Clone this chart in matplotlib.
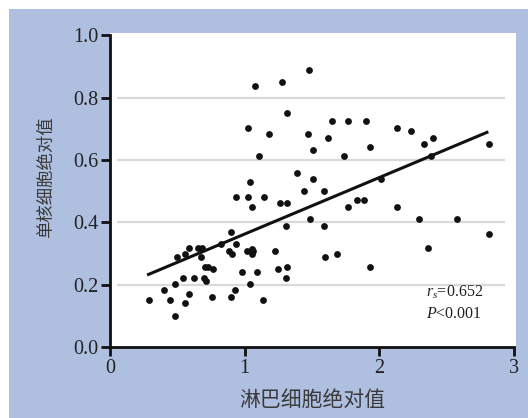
import matplotlib
matplotlib.use('Agg')
import matplotlib.pyplot as plt
from matplotlib.patches import Rectangle

# lymphocyte vs monocyte absolute counts
lymph = [1.080, 1.274, 1.477, 1.316, 1.028, 1.179, 1.467, 1.646, 1.767, 1.899,
         1.618, 1.504, 1.110, 1.740, 1.931, 2.132, 2.234, 2.333, 2.402, 2.387,
         2.811, 2.010, 1.385, 1.504, 1.038, 1.437, 1.589, 0.936, 1.028, 1.147,
         1.832, 1.889, 1.051, 1.264, 1.318, 1.767, 2.132, 1.487, 1.304, 1.589,
         2.293, 2.580, 2.818, 0.897, 0.827, 0.936, 0.884, 0.909, 1.016, 1.051,
         1.065, 1.055, 1.224, 1.598, 1.688, 2.365, 1.931, 1.251, 1.316, 1.304,
         0.978, 1.088, 0.586, 0.656, 0.681, 0.560, 0.497, 0.676, 0.705, 0.731,
         0.768, 0.539, 0.626, 0.696, 0.715, 0.486, 0.400, 0.586, 0.445, 0.286,
         0.560, 0.486, 0.757, 0.897, 0.929, 1.038, 1.137]
mono = [0.839, 0.850, 0.890, 0.752, 0.702, 0.683, 0.683, 0.724, 0.724, 0.724,
        0.672, 0.631, 0.612, 0.612, 0.641, 0.702, 0.693, 0.651, 0.672, 0.612,
        0.651, 0.540, 0.560, 0.540, 0.529, 0.500, 0.500, 0.482, 0.482, 0.482,
        0.472, 0.472, 0.451, 0.462, 0.462, 0.451, 0.451, 0.410, 0.390, 0.390,
        0.410, 0.410, 0.362, 0.369, 0.330, 0.330, 0.309, 0.299, 0.309, 0.315,
        0.309, 0.299, 0.309, 0.288, 0.299, 0.318, 0.258, 0.249, 0.258, 0.222,
        0.242, 0.242, 0.318, 0.318, 0.318, 0.299, 0.288, 0.288, 0.258, 0.258,
        0.250, 0.222, 0.222, 0.222, 0.212, 0.201, 0.182, 0.171, 0.151, 0.151,
        0.141, 0.100, 0.161, 0.161, 0.182, 0.201, 0.151]

# fitted line ends
fit_x = [0.286, 2.799]
fit_y = [0.233, 0.689]

xticks = [0, 1, 2, 3]
yticks = [0.0, 0.2, 0.4, 0.6, 0.8, 1.0]

plt.rcParams['mathtext.fontset'] = 'custom'
plt.rcParams['mathtext.rm'] = 'Liberation Serif'
plt.rcParams['mathtext.it'] = 'Liberation Serif:italic'

W, H = 528, 418
fig = plt.figure(figsize=(W / 100, H / 100), dpi=100)
fig.patch.set_facecolor('white')
fig.patches.append(Rectangle((9 / W, 0), 1 - 9 / W, 1 - 9 / H,
                             transform=fig.transFigure, facecolor='#afbfe0',
                             edgecolor='none', zorder=-10))

ax = fig.add_axes([110 / W, (H - 347) / H, 406 / W, 314 / H])
ax.set_facecolor('white')
ax.set_xlim(0, 3.015)
ax.set_ylim(0, 1.008)

ax.hlines([0.2, 0.4, 0.6, 0.8], 0.05, 2.93, color='#d9d9d9', lw=1.6, zorder=1)

ax.scatter(lymph, mono, s=24, color='#111111', zorder=3, linewidths=0)
ax.plot(fit_x, fit_y, color='#111111', lw=2.2, zorder=4)

for s in ['top', 'right']:
    ax.spines[s].set_visible(False)
for s in ['left', 'bottom']:
    ax.spines[s].set_linewidth(2)
    ax.spines[s].set_color('#111111')
ax.spines['bottom'].set_bounds(0, 3)
ax.spines['left'].set_bounds(0, 1)

ax.set_xticks(xticks)
ax.set_yticks(yticks)
ax.set_xticklabels([str(t) for t in xticks])
ax.set_yticklabels(['%.1f' % t for t in yticks])
ax.tick_params(direction='out', length=6.5, width=2, color='#111111',
               labelsize=14.5, labelcolor='#222222', pad=2)
for lab in ax.get_xticklabels() + ax.get_yticklabels():
    lab.set_family('Liberation Serif')

ax.text(2.35, 0.175, r'$r_s$=0.652', fontsize=11.5, family='Liberation Serif',
        color='#222222', va='center')
ax.text(2.35, 0.105, r'$P$<0.001', fontsize=11.5, family='Liberation Serif',
        color='#222222', va='center')

fig.text(312 / W, 1 - 400 / H, '淋巴细胞绝对值', fontsize=15,
         family=['Noto Sans CJK SC', 'DejaVu Sans'], color='#3a3a3a',
         ha='center', va='center')
fig.text(46 / W, 1 - 177 / H, '单核细胞绝对值', fontsize=12.5, rotation=90,
         family=['Noto Sans CJK SC', 'DejaVu Sans'], color='#3a3a3a',
         ha='center', va='center')

fig.savefig('out.png', dpi=100)
